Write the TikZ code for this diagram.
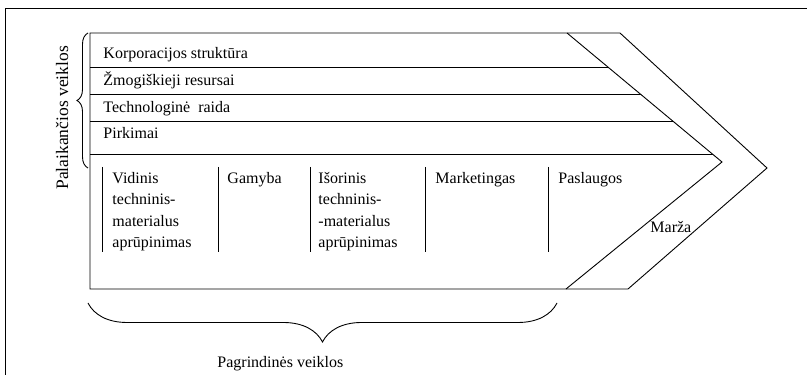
\documentclass[tikz,border=0pt]{standalone}
\usepackage{fontspec}
\setmainfont{Liberation Serif}
\usetikzlibrary{decorations.pathreplacing}

\begin{document}
\begin{tikzpicture}[x=1pt,y=1pt,line width=0.9pt,font=\fontsize{16}{21.5}\selectfont]
        \useasboundingbox (0,0) rectangle (807,375);
        \draw (5,0) -- (5,367) -- (807,367);
        \draw (90,342) -- (620,342) -- (767,207) -- (628,86) -- (90,86) -- cycle;
        \draw (567,342) -- (722,213) -- (566,86);
        \begin{scope}
            \clip (90,342) -- (567,342) -- (722,213) -- (566,86) -- (90,86) -- cycle;
            \foreach \y in {308,281,254,221}
                \draw (90,\y) -- (800,\y);
        \end{scope}
        \foreach \x in {102,218,310,425,548}
            \draw (\x,208) -- (\x,123);
        \node [anchor=base west,inner sep=0] (korp) at (103,316) {Korporacijos struktūra};
        \node [anchor=base west,inner sep=0] (zmog) at (103,289) {Žmogiškieji resursai};
        \node [anchor=base west,inner sep=0] (tech) at (103,262) {Technologinė\ \ raida};
        \node [anchor=base west,inner sep=0] (pirk) at (103,236) {Pirkimai};
        \node [anchor=north west,inner sep=0,align=left] (vid) at (112,207) {\strut Vidinis\\techninis-\\materialus\\aprūpinimas};
        \node [anchor=north west,inner sep=0,align=left] (gam) at (227,207) {\strut Gamyba};
        \node [anchor=north west,inner sep=0,align=left] (isor) at (318,207) {\strut Išorinis\\techninis-\\-materialus\\aprūpinimas};
        \node [anchor=north west,inner sep=0,align=left] (mark) at (435,207) {\strut Marketingas};
        \node [anchor=north west,inner sep=0,align=left] (pasl) at (558,207) {\strut Paslaugos};
        \node [anchor=base west,inner sep=0] (marza) at (650,142) {Marža};
        \draw [decorate,decoration={brace,amplitude=11pt}] (88,207) -- (88,342);
        \node [anchor=base west,inner sep=0,rotate=90,font=\fontsize{17.5}{21}\selectfont] (palaik) at (68,185) {Palaikančios veiklos};
        \draw [decorate,decoration={brace,amplitude=39pt}] (557,72) -- (88,72);
        \node [anchor=base west,inner sep=0] (pagr) at (217,7) {Pagrindinės veiklos};
    \end{tikzpicture}
\end{document}
